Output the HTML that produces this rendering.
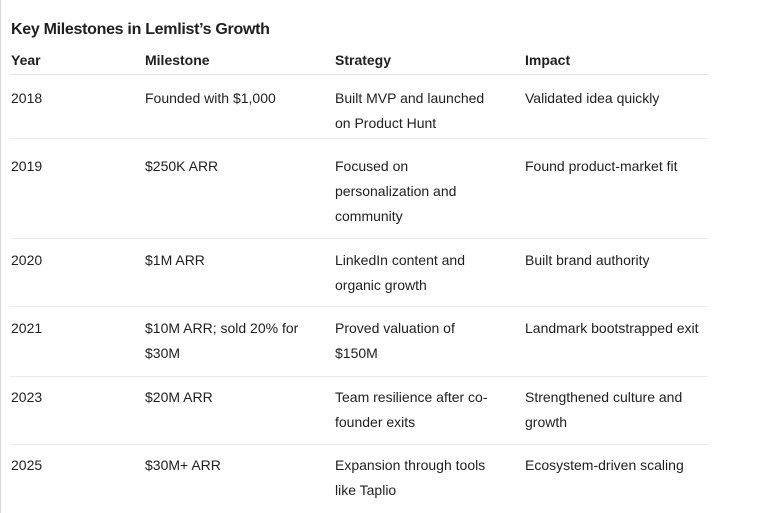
<!DOCTYPE html>
<html><head><meta charset="utf-8"><style>
body{margin:0;width:768px;height:513px;background:#fff;position:relative;overflow:hidden;font-family:"Liberation Sans",sans-serif;color:#1f1f1f}
.edge{position:absolute;left:0;top:0;width:1px;height:513px;background:#d8d8d8}
h1{position:absolute;left:11px;top:21px;margin:0;font-size:16px;font-weight:bold;letter-spacing:-0.3px}
.c{position:absolute;font-size:14px;line-height:25px;letter-spacing:0}
.h{font-weight:bold;font-size:14px}
.ln{position:absolute;left:10px;width:698px;height:1px;background:#ececec}
</style></head><body>
<div class="edge"></div>
<h1>Key Milestones in Lemlist’s Growth</h1>
<div>
<div class="c h" style="left:11px;top:48px">Year</div>
<div class="c h" style="left:145px;top:48px">Milestone</div>
<div class="c h" style="left:335px;top:48px">Strategy</div>
<div class="c h" style="left:525px;top:48px">Impact</div>
</div>
<div class="ln" style="top:74px;background:#e2e2e2"></div>

<div>
<div class="c" style="left:11px;top:86px">2018</div>
<div class="c" style="left:145px;top:86px">Founded with $1,000</div>
<div class="c" style="left:335px;top:86px;width:165px">Built MVP and launched on Product Hunt</div>
<div class="c" style="left:525px;top:86px">Validated idea quickly</div>
</div>
<div class="ln" style="top:138px"></div>

<div>
<div class="c" style="left:11px;top:154px">2019</div>
<div class="c" style="left:145px;top:154px">$250K ARR</div>
<div class="c" style="left:335px;top:154px;width:150px">Focused on personalization and community</div>
<div class="c" style="left:525px;top:154px">Found product-market fit</div>
</div>
<div class="ln" style="top:238px"></div>

<div>
<div class="c" style="left:11px;top:248px">2020</div>
<div class="c" style="left:145px;top:248px">$1M ARR</div>
<div class="c" style="left:335px;top:248px;width:160px">LinkedIn content and organic growth</div>
<div class="c" style="left:525px;top:248px">Built brand authority</div>
</div>
<div class="ln" style="top:306px"></div>

<div>
<div class="c" style="left:11px;top:316px">2021</div>
<div class="c" style="left:145px;top:316px;width:175px">$10M ARR; sold 20% for $30M</div>
<div class="c" style="left:335px;top:316px;width:150px">Proved valuation of $150M</div>
<div class="c" style="left:525px;top:316px">Landmark bootstrapped exit</div>
</div>
<div class="ln" style="top:376px"></div>

<div>
<div class="c" style="left:11px;top:385px">2023</div>
<div class="c" style="left:145px;top:385px">$20M ARR</div>
<div class="c" style="left:335px;top:385px;width:180px">Team resilience after co-founder exits</div>
<div class="c" style="left:525px;top:385px;width:180px">Strengthened culture and growth</div>
</div>
<div class="ln" style="top:444px"></div>

<div>
<div class="c" style="left:11px;top:453px">2025</div>
<div class="c" style="left:145px;top:453px">$30M+ ARR</div>
<div class="c" style="left:335px;top:453px;width:172px">Expansion through tools like Taplio</div>
<div class="c" style="left:525px;top:453px">Ecosystem-driven scaling</div>
</div>
</body></html>
